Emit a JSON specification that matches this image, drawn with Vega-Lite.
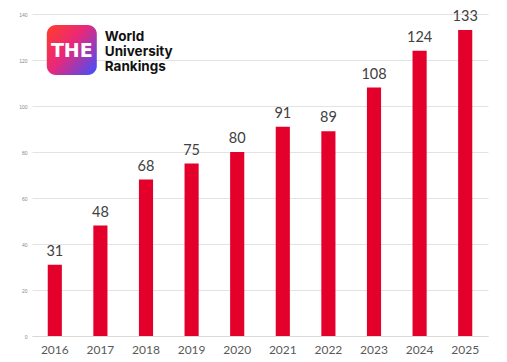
{
  "$schema": "https://vega.github.io/schema/vega-lite/v6.json",
  "width": 456,
  "height": 322,
  "autosize": {"type": "none"},
  "padding": {"left": 32, "top": 14, "right": 19, "bottom": 26},
  "background": "white",
  "config": {"view": {"stroke": null}},
  "datasets": {
    "counts": [
      {"year": "2016", "count": 31},
      {"year": "2017", "count": 48},
      {"year": "2018", "count": 68},
      {"year": "2019", "count": 75},
      {"year": "2020", "count": 80},
      {"year": "2021", "count": 91},
      {"year": "2022", "count": 89},
      {"year": "2023", "count": 108},
      {"year": "2024", "count": 124},
      {"year": "2025", "count": 133}
    ],
    "logo": [{"year": "2016", "low": 113.5, "high": 135.2, "mid": 124.3, "text": "THE"}],
    "logotext": [{"year": "2016", "count": 124.3, "text": "World University Rankings"}]
  },
  "encoding": {
    "x": {
      "field": "year", "type": "nominal",
      "scale": {"paddingInner": 0.69, "paddingOuter": 0.345},
      "axis": {"title": null, "labelAngle": 0, "ticks": false, "domainColor": "#d9d9d9", "labelColor": "#595959", "labelFont": "Lato", "labelFontSize": 12, "labelPadding": 8}
    }
  },
  "layer": [
    {
      "data": {"name": "counts"},
      "mark": {"type": "bar", "color": "#E3002B"},
      "encoding": {
        "y": {
          "field": "count", "type": "quantitative",
          "scale": {"domain": [0, 140]},
          "axis": {"title": null, "values": [0, 20, 40, 60, 80, 100, 120, 140], "ticks": false, "domain": false, "gridColor": "#e3e3e3", "labelColor": "#8a8a8a", "labelFontSize": 5, "labelPadding": 5}
        }
      }
    },
    {
      "data": {"name": "counts"},
      "mark": {"type": "text", "baseline": "bottom", "dy": -6, "font": "Lato", "fontSize": 14.5, "color": "#404040"},
      "encoding": {
        "y": {"field": "count", "type": "quantitative"},
        "text": {"field": "count", "type": "quantitative"}
      }
    },
    {
      "data": {"name": "logo"},
      "mark": {"type": "bar", "width": 50, "xOffset": 17, "cornerRadius": 9, "color": {"gradient": "linear", "x1": 0, "y1": 0.1, "x2": 1, "y2": 0.9, "stops": [{"offset": 0, "color": "#ff3b30"}, {"offset": 0.45, "color": "#e8287a"}, {"offset": 1, "color": "#4a4df5"}]}},
      "encoding": {
        "y": {"field": "low", "type": "quantitative"},
        "y2": {"field": "high"}
      }
    },
    {
      "data": {"name": "logo"},
      "mark": {"type": "text", "dx": 17, "dy": 1, "align": "center", "baseline": "middle", "font": "DejaVu Sans", "fontWeight": "bold", "fontSize": 19, "color": "white"},
      "encoding": {
        "y": {"field": "mid", "type": "quantitative"},
        "text": {"field": "text"}
      }
    },
    {
      "data": {"name": "logotext"},
      "mark": {"type": "text", "dx": 50, "dy": -13, "align": "left", "baseline": "middle", "font": "Inter", "fontWeight": "bold", "fontSize": 13.5, "lineHeight": 15, "color": "#111111", "lineBreak": " "},
      "encoding": {
        "y": {"field": "count", "type": "quantitative"},
        "text": {"field": "text"}
      }
    }
  ]
}
